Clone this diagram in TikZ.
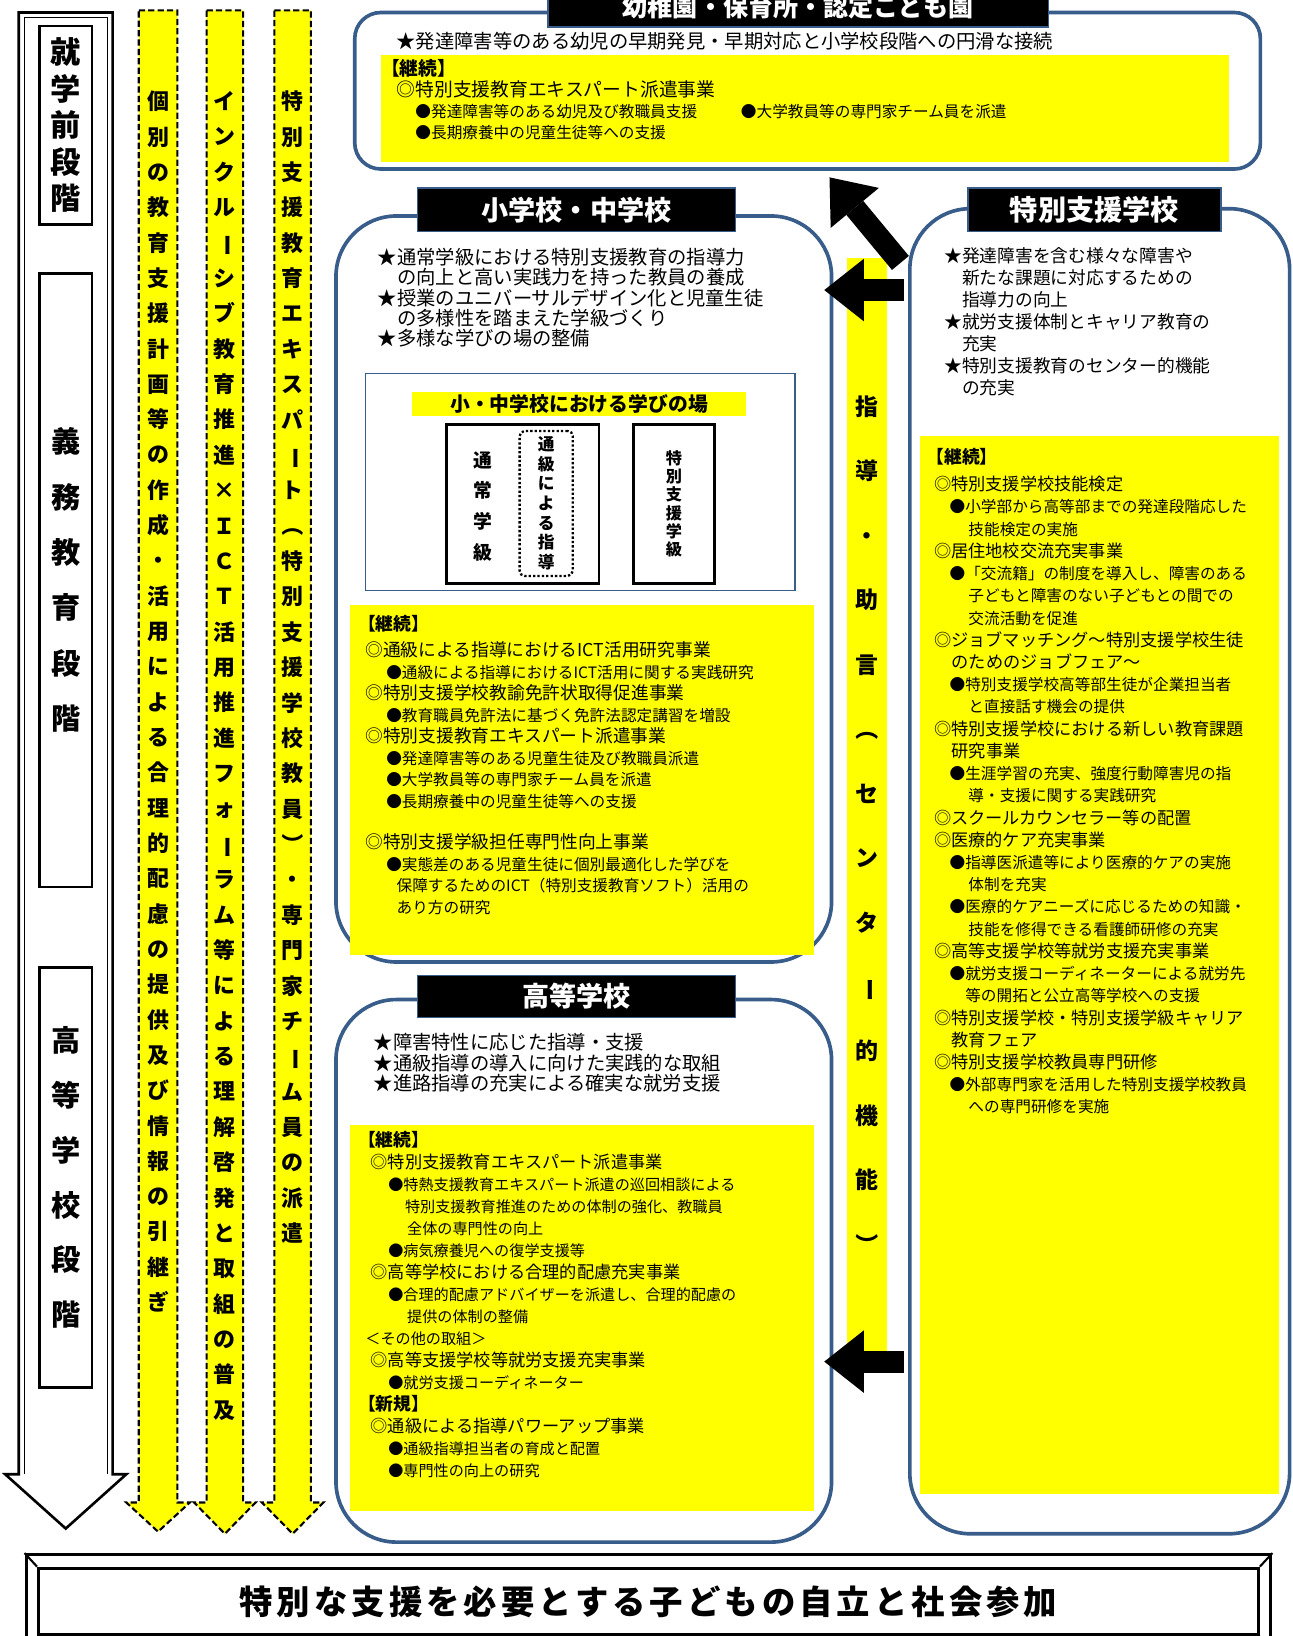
\documentclass[tikz,border=0pt]{standalone}
\usepackage{fontspec}
\usepackage{graphicx}
\setmainfont{Noto Sans CJK JP}
\usetikzlibrary{arrows.meta}

\definecolor{frameblue}{RGB}{56,93,138}
\definecolor{markyellow}{RGB}{255,255,0}

\newcommand\sz[1]{\fontsize{#1}{#1}\selectfont}
\newcommand\vbar{\rotatebox[origin=c]{-90}{ー}}
\newcommand\vlp{\rotatebox[origin=c]{-90}{（}}
\newcommand\vrp{\rotatebox[origin=c]{-90}{）}}
\def\vtextend{vtextend}
\newcommand\vtext[2]{\vbox{\baselineskip=#1\lineskiplimit=-100pt\relax\vtextloop#2\vtextend}}
\def\vtextloop#1{\ifx#1\vtextend\else\hbox to 1em{\hss#1\hss}\expandafter\vtextloop\fi}

\tikzset{
  stagebox/.style={draw, line width=2.5pt, minimum width=50pt, inner sep=0pt, font=\bfseries\sz{28}},
  flowcol/.style={fill=markyellow, draw, line width=2pt, dash pattern=on 6pt off 3pt},
  coltext/.style={inner sep=0pt, font=\bfseries\sz{21}},
  areabox/.style={draw=frameblue, line width=3.5pt, fill=white, rounded corners=58pt, inner sep=0pt},
  titlebox/.style={fill=black, draw=frameblue, line width=1.5pt, text=white, inner sep=0pt, minimum height=42pt, font=\bfseries\sz{26}},
  yelblock/.style={fill=markyellow, inner sep=0pt},
  textblock/.style={anchor=north west, align=left, inner sep=0pt},
  classbox/.style={draw, line width=2.5pt, minimum height=152pt, inner sep=0pt, font=\bfseries\sz{15.5}},
  bigarrow/.style={line width=21pt, -{Triangle[line width=0pt, length=38pt, width=60pt]}}
}

\begin{document}
\begin{tikzpicture}[x=1pt, y=-1pt]
\useasboundingbox (0,0) rectangle (1239,1568);
\fill[white] (0,0) rectangle (1239,1568);

% school stages
\draw[line width=2.5pt, fill=white] (18,12) -- (108,12) -- (108,1413) -- (121,1413) -- (63,1465) -- (5,1413) -- (18,1413) -- cycle;
\draw[line width=0.8pt] (23,1413) -- (23,17) -- (103,17) -- (103,1413);
\node[stagebox, minimum height=190pt, font=\bfseries\sz{29}] (preschool) at (63,120) {\vtext{35pt}{就学前段階}};
\node[stagebox, minimum height=588pt] (compulsory) at (63,556) {\vtext{53pt}{義務教育段階}};
\node[stagebox, minimum height=403pt] (highstage) at (63,1128.5) {\vtext{52.6pt}{高等学校段階}};

% support running through all stages
\draw[flowcol] (133,10) -- (170,10) -- (170,1440) -- (182,1440) -- (151.5,1468) -- (121,1440) -- (133,1440) -- cycle;
\draw[flowcol] (198,10) -- (233,10) -- (233,1440) -- (245,1440) -- (215.5,1470) -- (186,1440) -- (198,1440) -- cycle;
\draw[flowcol] (263,10) -- (298,10) -- (298,1440) -- (310,1440) -- (280.5,1470) -- (251,1440) -- (263,1440) -- cycle;
\node[coltext] (plan) at (151.5,672.5) {\vtext{33.85pt}{個別の教育支援計画等の作成・活用による合理的配慮の提供及び情報の引継ぎ}};
\node[coltext] (forum) at (215.5,724.5) {\vtext{33.9pt}{インクル\vbar シブ教育推進×ＩＣＴ活用推進フォ\vbar ラム等による理解啓発と取組の普及}};
\node[coltext] (expert) at (280.5,639.5) {\vtext{33.9pt}{特別支援教育エキスパ\vbar ト\vlp 特別支援学校教員\vrp ・専門家チ\vbar ム員の派遣}};

% kindergarten
\node[areabox, rounded corners=25pt, minimum width=868pt, minimum height=150pt] (kinder) at (774,87) {};
\node[yelblock, minimum width=813pt, minimum height=102pt] (kinderyel) at (771.5,104) {};
\node[titlebox, minimum width=480pt, minimum height=38pt, font=\bfseries\sz{24}] (kindertitle) at (765,7) {幼稚園・保育所・認定こども園};
\node[textblock, font=\sz{18.5}] (kinderstar) at (380,31) {★発達障害等のある幼児の早期発見・早期対応と小学校段階への円滑な接続};
\node[textblock, font=\fontsize{15}{20}\selectfont] (kindertext) at (365,57) {%
{\bfseries\sz{18}【継続】}\\
{\sz{18}\hspace*{15pt}◎特別支援教育エキスパート派遣事業}\\
\hspace*{33pt}\makebox[312pt][l]{●発達障害等のある幼児及び教職員支援}●大学教員等の専門家チーム員を派遣\\
\hspace*{33pt}●長期療養中の児童生徒等への支援};

% elementary and junior high school
\node[areabox, minimum width=475pt, minimum height=715pt] (sho) at (559.5,564.5) {};
\node[titlebox, minimum width=305pt] (shotitle) at (552.5,201) {小学校・中学校};
\node[textblock, font=\fontsize{18.5}{19.5}\selectfont] (shostar) at (362,237.75) {%
★通常学級における特別支援教育の指導力\\
　の向上と高い実践力を持った教員の養成\\
★授業のユニバーサルデザイン化と児童生徒\\
　の多様性を踏まえた学級づくり\\
★多様な学びの場の整備};
\node[draw=frameblue, line width=1.2pt, minimum width=412pt, minimum height=208pt] (places) at (556,462) {};
\node[fill=markyellow, minimum width=320pt, minimum height=23pt, inner sep=0pt, font=\bfseries\sz{19}] (placestitle) at (555,387.5) {小・中学校における学びの場};
\node[classbox, minimum width=146pt] (regular) at (501,483) {};
\node[inner sep=0pt, font=\bfseries\sz{18}] (regulartext) at (463,485.5) {\vtext{29.7pt}{通常学級}};
\node[draw, dotted, line width=2.2pt, rounded corners=5pt, minimum width=51pt, minimum height=139pt, inner sep=0pt, font=\bfseries\sz{16}] (tsukyu) at (523.5,482.5) {\vtext{18.8pt}{通級による指導}};
\node[classbox, minimum width=78pt] (specialclass) at (646,483) {\vtext{17.6pt}{特別支援学級}};
\node[yelblock, minimum width=445pt, minimum height=335pt] (shoyel) at (557.5,747.5) {};
\node[textblock, font=\fontsize{15}{20.6}\selectfont] (shotext) at (343,589.5) {%
{\bfseries\sz{17}【継続】}\\[4.4pt]
{\sz{17}\hspace*{7pt}◎通級による指導におけるICT活用研究事業}\\
\hspace*{27pt}●通級による指導におけるICT活用に関する実践研究\\
{\sz{17}\hspace*{7pt}◎特別支援学校教諭免許状取得促進事業}\\
\hspace*{27pt}●教育職員免許法に基づく免許法認定講習を増設\\
{\sz{17}\hspace*{7pt}◎特別支援教育エキスパート派遣事業}\\
\hspace*{27pt}●発達障害等のある児童生徒及び教職員派遣\\
\hspace*{27pt}●大学教員等の専門家チーム員を派遣\\
\hspace*{27pt}●長期療養中の児童生徒等への支援\\[19.4pt]
{\sz{17}\hspace*{7pt}◎特別支援学級担任専門性向上事業}\\
\hspace*{27pt}●実態差のある児童生徒に個別最適化した学びを\\
\hspace*{37pt}保障するためのICT（特別支援教育ソフト）活用の\\
\hspace*{37pt}あり方の研究};

% high school
\node[areabox, minimum width=475pt, minimum height=520pt] (kou) at (559.5,1218) {};
\node[titlebox, minimum width=305pt, minimum height=40pt] (koutitle) at (552.5,955) {高等学校};
\node[textblock, font=\fontsize{18.5}{20}\selectfont] (koustar) at (358,989.75) {%
★障害特性に応じた指導・支援\\
★通級指導の導入に向けた実践的な取組\\
★進路指導の充実による確実な就労支援};
\node[yelblock, minimum width=445pt, minimum height=370pt] (kouyel) at (557.5,1263) {};
\node[textblock, font=\fontsize{14.5}{21.07}\selectfont] (koutext) at (343,1084.5) {%
{\bfseries\sz{17}【継続】}\\
{\sz{16.5}\hspace*{12pt}◎特別支援教育エキスパート派遣事業}\\
\hspace*{29pt}●特熱支援教育エキスパート派遣の巡回相談による\\
\hspace*{45pt}特別支援教育推進のための体制の強化、教職員\\
\hspace*{47pt}全体の専門性の向上\\
\hspace*{29pt}●病気療養児への復学支援等\\
{\sz{16.5}\hspace*{12pt}◎高等学校における合理的配慮充実事業}\\
\hspace*{29pt}●合理的配慮アドバイザーを派遣し、合理的配慮の\\
\hspace*{47pt}提供の体制の整備\\
\hspace*{7pt}＜その他の取組＞\\
{\sz{16.5}\hspace*{12pt}◎高等支援学校等就労支援充実事業}\\
\hspace*{29pt}●就労支援コーディネーター\\
{\bfseries\sz{17}【新規】}\\
{\sz{16.5}\hspace*{12pt}◎通級による指導パワーアップ事業}\\
\hspace*{29pt}●通級指導担当者の育成と配置\\
\hspace*{29pt}●専門性の向上の研究};

% special needs school
\node[areabox, minimum width=364pt, minimum height=1270pt] (tok) at (1054,835) {};
\node[titlebox, minimum width=242pt, font=\bfseries\sz{27}] (toktitle) at (1049,201) {特別支援学校};
\node[textblock, font=\fontsize{17}{21}\selectfont] (tokstar) at (905,237.5) {%
★発達障害を含む様々な障害や\\
　新たな課題に対応するための\\
　指導力の向上\\
★就労支援体制とキャリア教育の\\
　充実\\
★特別支援教育のセンター的機能\\
　の充実};
\node[yelblock, minimum width=344pt, minimum height=1014pt] (tokyel) at (1054,925) {};
\node[textblock, font=\fontsize{15}{21.3}\selectfont] (toktext) at (888,429.5) {%
{\bfseries\sz{17}【継続】}\\[4.7pt]
{\sz{16.5}\hspace*{7pt}◎特別支援学校技能検定}\\
\hspace*{22pt}●小学部から高等部までの発達段階応した\\
\hspace*{40pt}技能検定の実施\\
{\sz{16.5}\hspace*{7pt}◎居住地校交流充実事業}\\
\hspace*{22pt}●「交流籍」の制度を導入し、障害のある\\
\hspace*{40pt}子どもと障害のない子どもとの間での\\
\hspace*{40pt}交流活動を促進\\
{\sz{16.5}\hspace*{7pt}◎ジョブマッチング～特別支援学校生徒}\\
{\sz{16.5}\hspace*{24pt}のためのジョブフェア～}\\
\hspace*{22pt}●特別支援学校高等部生徒が企業担当者\\
\hspace*{40pt}と直接話す機会の提供\\
{\sz{16.5}\hspace*{7pt}◎特別支援学校における新しい教育課題}\\
{\sz{16.5}\hspace*{24pt}研究事業}\\
\hspace*{22pt}●生涯学習の充実、強度行動障害児の指\\
\hspace*{40pt}導・支援に関する実践研究\\
{\sz{16.5}\hspace*{7pt}◎スクールカウンセラー等の配置}\\
{\sz{16.5}\hspace*{7pt}◎医療的ケア充実事業}\\
\hspace*{22pt}●指導医派遣等により医療的ケアの実施\\
\hspace*{40pt}体制を充実\\
\hspace*{22pt}●医療的ケアニーズに応じるための知識・\\
\hspace*{40pt}技能を修得できる看護師研修の充実\\
{\sz{16.5}\hspace*{7pt}◎高等支援学校等就労支援充実事業}\\
\hspace*{22pt}●就労支援コーディネーターによる就労先\\
\hspace*{37pt}等の開拓と公立高等学校への支援\\
{\sz{16.5}\hspace*{7pt}◎特別支援学校・特別支援学級キャリア}\\
{\sz{16.5}\hspace*{24pt}教育フェア}\\
{\sz{16.5}\hspace*{7pt}◎特別支援学校教員専門研修}\\
\hspace*{22pt}●外部専門家を活用した特別支援学校教員\\
\hspace*{40pt}への専門研修を実施};

% guidance from the special needs school
\node[yelblock, minimum width=38pt, minimum height=1051pt] (guide) at (831,772.5) {};
\node[coltext, font=\bfseries\sz{22}] (guidetext) at (831,791.5) {\vtext{61.8pt}{指導・助言\vlp センタ\vbar 的機能\vrp}};
\coordinate (fromtop) at (863,252);
\coordinate (tokinder) at (795,170);
\coordinate (fromsho) at (866,278);
\coordinate (tosho) at (790,278);
\coordinate (fromkou) at (866,1305);
\coordinate (tokou) at (790,1305);
\draw[bigarrow] (fromtop) -- (tokinder);
\draw[bigarrow] (fromsho) -- (tosho);
\draw[bigarrow] (fromkou) -- (tokou);

% goal
\node[draw, line width=3pt, minimum width=1193pt, minimum height=90pt] (goalframe) at (621.5,1535) {};
\node[draw, line width=3pt, minimum width=1169pt, minimum height=64pt, font=\bfseries\sz{32}\addfontfeature{LetterSpace=12}] (goal) at (621.5,1535) {特別な支援を必要とする子どもの自立と社会参加};
\draw[line width=2pt] (goalframe.north west) -- (goal.north west);
\draw[line width=2pt] (goalframe.north east) -- (goal.north east);
\draw[line width=2pt] (goalframe.south west) -- (goal.south west);
\draw[line width=2pt] (goalframe.south east) -- (goal.south east);
\end{tikzpicture}
\end{document}
